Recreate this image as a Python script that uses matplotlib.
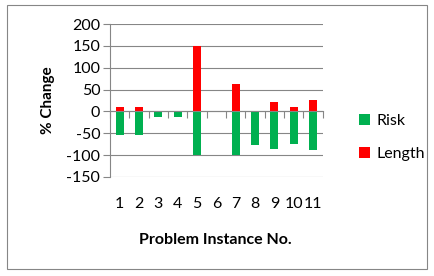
import matplotlib.pyplot as plt
import numpy as np

# datos
instances = ['1', '2', '3', '4', '5', '6', '7', '8', '9', '10', '11']
risk = [-55, -55, -13, -13, -100, 0, -100, -77, -87, -75, -89]
length = [10, 10, 0, 0, 150, 0, 62, 0, 22, 10, 25]

plt.rcParams['font.family'] = ['Lato', 'DejaVu Sans']
plt.rcParams['axes.unicode_minus'] = False

fig = plt.figure(figsize=(4.34, 2.76), dpi=100)
ax = fig.add_axes([0.2535, 0.359, 0.49, 0.554])

x = np.arange(len(instances))
ax.bar(x, risk, width=0.4, color='#00B050', label='Risk', zorder=3)
ax.bar(x, length, width=0.4, color='#FF0000', label='Length', zorder=3)

ax.set_xlim(-0.5, len(instances) - 0.5)
ax.set_ylim(-150, 200)
ax.set_yticks(np.arange(-150, 201, 50))
ax.yaxis.grid(True, color='#868686', linewidth=0.8, zorder=0)
ax.tick_params(axis='y', length=5, color='#868686', labelsize=11.5, pad=2)

for s in ['top', 'right']:
    ax.spines[s].set_visible(False)
ax.spines['left'].set_color('#868686')
ax.spines['bottom'].set_color('#868686')
ax.spines['bottom'].set_position(('data', 0))
ax.spines['bottom'].set_zorder(4)

# ticks entre categorias
ax.set_xticks(np.arange(-0.5, len(instances), 1.0))
ax.set_xticklabels([])
ax.tick_params(axis='x', length=5, color='#868686', direction='out')

# etiquetas de categorias debajo del grafico
tr = ax.get_xaxis_transform()
for xi, lab in zip(x, instances):
    ax.text(xi, -0.18, lab, transform=tr, ha='center', va='center', fontsize=11.5)

ax.set_ylabel('% Change', fontsize=11, fontweight='bold', labelpad=8)
fig.text(0.497, 0.13, 'Problem Instance No.', ha='center', va='center',
         fontsize=11.5, fontweight='bold')

ax.legend(loc='center left', bbox_to_anchor=(0.795, 0.502), bbox_transform=fig.transFigure,
          frameon=False, fontsize=11.5, handlelength=0.65, handleheight=0.65,
          handletextpad=0.4, labelspacing=1.2)

# borde del grafico
fig.patches.append(plt.Rectangle((0.016, 0.025), 0.968, 0.957, transform=fig.transFigure,
                                 fill=False, edgecolor='#868686', linewidth=0.8))

fig.savefig('out.png', dpi=100)
